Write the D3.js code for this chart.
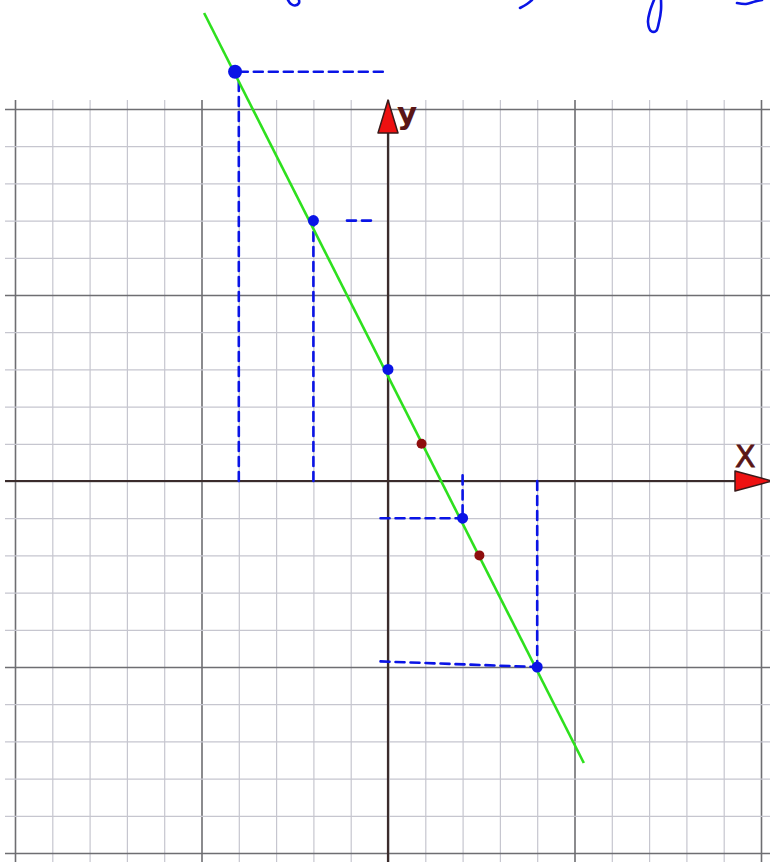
<html>
<head>
<meta charset="utf-8">
<script src="https://d3js.org/d3.v7.min.js"></script>
<style>
  body { margin: 0; background: #fff; }
  .grid .domain { display: none; }
  .grid line { stroke: #c6c6cf; stroke-width: 1.2px; }
  .grid .major line { stroke: #6e6e72; stroke-width: 1.6px; }
  .guide { fill: none; stroke: #0a14e6; stroke-width: 2.6px; stroke-dasharray: 9,6; stroke-linecap: round; }
  .ink { fill: none; stroke: #0a14e6; stroke-width: 2.6px; stroke-linecap: round; stroke-linejoin: round; }
</style>
</head>
<body>
<script>
// grid ticks (units)
var gridTicks = d3.range(-10, 11);

// points (y = -2x + 3)
var blueX = [-4.1, -2, 0, 2, 4];
var blueY = [11, 7, 3, -1, -5];
var redX = [0.9, 2.45];
var redY = [1, -2];

// green line end points
var lineX = [-4.93, 5.25];
var lineY = [12.58, -7.58];

// dashed helper lines (x1, y1) -> (x2, y2)
var guideX1 = [-4, -4, -2, -1.1, 2, -0.2, 4, -0.2];
var guideY1 = [0, 11, 0, 7, 0.15, -1, 0, -4.85];
var guideX2 = [-4, 0, -2, -0.3, 2, 2, 4, 4];
var guideY2 = [11, 11, 7, 7, -1, -1, -5, -5];

var W = 770, H = 862;

var x = d3.scaleLinear().domain([-10, 10]).range([15, 761]);
var y = d3.scaleLinear().domain([-10, 10]).range([853, 109]);

var svg = d3.select("body").append("svg")
    .attr("width", W)
    .attr("height", H);

// tails of the handwriting cut off by the top edge
var ink = [
    [[288, 0], [291, 4], [295, 5.5], [299, 3], [299, 0]],
    [[532, 0], [527, 4], [520, 8]],
    [[654, 0], [650, 11], [648, 22], [651, 31], [656, 31], [659, 22], [661, 10], [661, 0]],
    [[737, 3], [746, 4], [755, 1.5], [762, 0]]
];
svg.selectAll("path.ink").data(ink).enter().append("path")
    .attr("class", "ink")
    .attr("d", d3.line().curve(d3.curveCatmullRom));

// vertical grid lines
svg.append("g")
    .attr("class", "grid")
    .attr("transform", "translate(0," + H + ")")
    .call(d3.axisBottom(x).tickValues(gridTicks).tickSize(-(H - 100)).tickFormat(""));

// horizontal grid lines
svg.append("g")
    .attr("class", "grid")
    .attr("transform", "translate(5,0)")
    .call(d3.axisLeft(y).tickValues(gridTicks).tickSize(-(W - 5)).tickFormat(""));

svg.selectAll(".grid .tick")
    .classed("major", function (d) { return d % 5 === 0; });

// axes
svg.append("line")
    .attr("x1", 5).attr("x2", 738)
    .attr("y1", y(0)).attr("y2", y(0))
    .attr("stroke", "#3b2c2c").attr("stroke-width", 2.2);
svg.append("line")
    .attr("x1", x(0)).attr("x2", x(0))
    .attr("y1", H).attr("y2", 130)
    .attr("stroke", "#3b2c2c").attr("stroke-width", 2.2);

// arrow heads
svg.append("path")
    .attr("d", "M" + (x(0) - 10) + ",133 L" + x(0) + ",100 L" + (x(0) + 10) + ",133 Z")
    .attr("fill", "#ee1111").attr("stroke", "#3a1a1a").attr("stroke-width", 1.5)
    .attr("stroke-linejoin", "round");
svg.append("path")
    .attr("d", "M735," + (y(0) - 10) + " L772," + y(0) + " L735," + (y(0) + 10) + " Z")
    .attr("fill", "#ee1111").attr("stroke", "#3a1a1a").attr("stroke-width", 1.5)
    .attr("stroke-linejoin", "round");

svg.append("text").text("y")
    .attr("x", 397).attr("y", 124)
    .attr("font-family", "DejaVu Sans").attr("font-size", 31).attr("font-weight", "bold")
    .attr("fill", "#5a1616");
svg.append("text").text("X")
    .attr("x", 735).attr("y", 467)
    .attr("font-family", "DejaVu Sans").attr("font-size", 30)
    .attr("fill", "#5a1616").attr("stroke", "#5a1616").attr("stroke-width", 0.8);

// dashed guides
svg.selectAll("line.guide")
    .data(guideX1)
    .enter().append("line")
    .attr("class", "guide")
    .attr("x1", function (d, i) { return x(guideX1[i]); })
    .attr("y1", function (d, i) { return y(guideY1[i]); })
    .attr("x2", function (d, i) { return x(guideX2[i]); })
    .attr("y2", function (d, i) { return y(guideY2[i]); });

// the green line
var valueline = d3.line()
    .x(function (d) { return x(d[0]); })
    .y(function (d) { return y(d[1]); });
svg.append("path")
    .datum(d3.zip(lineX, lineY))
    .attr("d", valueline)
    .attr("fill", "none")
    .attr("stroke", "#2ee01e")
    .attr("stroke-width", 2.6);

// blue points
svg.selectAll("circle.blue")
    .data(d3.zip(blueX, blueY))
    .enter().append("circle")
    .attr("class", "blue")
    .attr("cx", function (d) { return x(d[0]); })
    .attr("cy", function (d) { return y(d[1]); })
    .attr("r", function (d, i) { return i === 0 ? 7 : 5.5; })
    .attr("fill", "#0a14e6");

// red points
svg.selectAll("circle.red")
    .data(d3.zip(redX, redY))
    .enter().append("circle")
    .attr("class", "red")
    .attr("cx", function (d) { return x(d[0]); })
    .attr("cy", function (d) { return y(d[1]); })
    .attr("r", 5)
    .attr("fill", "#8e0d0d");
</script>
</body>
</html>
